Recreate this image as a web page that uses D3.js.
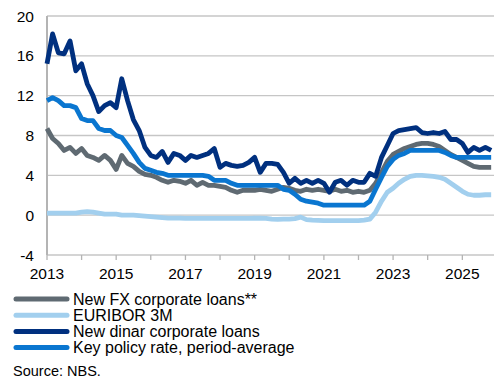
<!DOCTYPE html>
<html>
<head>
<meta charset="utf-8">
<script src="https://cdn.jsdelivr.net/npm/d3@7"></script>
<style>
  body { margin: 0; background: #fff; }
  svg { display: block; font-family: "Liberation Sans", Arial, sans-serif; }
</style>
</head>
<body>
<div id="chart"></div>
<script>
// bi-monthly observations, Jan 2013 .. Nov 2025 (6 per year)
const startYear = 2013;
const perYear = 6;

const fxLoans = [
  8.7, 7.7, 7.2, 6.5, 6.8, 6.2,
  6.7, 6.0, 5.8, 5.5, 6.0, 5.5,
  4.6, 6.0, 5.2, 4.9, 4.4, 4.1,
  4.0, 3.8, 3.5, 3.3, 3.5, 3.4,
  3.2, 3.5, 3.0, 3.3, 3.0, 3.0,
  2.9, 2.8, 2.5, 2.3, 2.5, 2.5,
  2.5, 2.6, 2.5, 2.4, 2.6, 2.8,
  2.7, 2.5, 2.4, 2.6, 2.5, 2.6,
  2.5, 2.4, 2.6, 2.4, 2.5, 2.3,
  2.4, 2.3, 2.5, 3.2, 4.3, 5.4,
  6.1, 6.4, 6.7, 6.9, 7.1, 7.2,
  7.2, 7.1, 6.9, 6.5, 6.1, 5.8,
  5.5, 5.2, 4.9, 4.8, 4.8, 4.8
];

const euribor = [
  0.2, 0.2, 0.2, 0.2, 0.2, 0.2,
  0.3, 0.35, 0.3, 0.2, 0.1, 0.1,
  0.1, 0.0, 0.0, 0.0, -0.05, -0.1,
  -0.15, -0.2, -0.25, -0.3, -0.3, -0.3,
  -0.33, -0.33, -0.33, -0.33, -0.33, -0.33,
  -0.32, -0.32, -0.32, -0.32, -0.32, -0.32,
  -0.31, -0.31, -0.32, -0.4, -0.42, -0.4,
  -0.39, -0.35, -0.2, -0.45, -0.5, -0.52,
  -0.55, -0.55, -0.55, -0.55, -0.55, -0.55,
  -0.55, -0.5, -0.4, 0.3, 1.4, 2.3,
  2.7, 3.2, 3.6, 3.9, 4.0, 4.0,
  3.95, 3.9, 3.8, 3.6, 3.2, 2.8,
  2.4, 2.1, 2.0, 2.0, 2.05, 2.05
];

const dinarLoans = [
  15.2, 18.2, 16.3, 16.2, 17.5, 14.5,
  15.2, 13.2, 12.0, 10.4, 11.0, 11.3,
  10.8, 13.7, 11.5, 9.6, 8.5, 6.8,
  6.0, 5.8, 6.4, 5.3, 6.2, 6.0,
  5.5, 6.0, 5.8, 6.0, 6.2, 6.7,
  4.8, 5.2, 5.0, 4.9, 5.0, 5.3,
  5.8, 4.3, 5.2, 5.2, 5.1, 4.3,
  3.2, 3.7, 3.2, 3.5, 3.2, 3.5,
  3.2, 2.3, 3.3, 3.5, 3.0, 3.5,
  3.3, 3.3, 4.2, 3.9, 5.8, 7.0,
  8.2, 8.5, 8.6, 8.7, 8.8, 8.3,
  8.2, 8.3, 8.2, 8.4, 7.6, 7.6,
  7.2, 6.3, 6.8, 6.5, 6.8, 6.5
];

const policyRate = [
  11.5, 11.8, 11.5, 11.0, 11.0, 10.8,
  9.7, 9.5, 9.5, 8.7, 8.5, 8.5,
  8.0, 7.8, 7.0, 6.2, 5.3, 4.7,
  4.5, 4.3, 4.2, 4.0, 4.0, 4.0,
  4.0, 4.0, 4.0, 4.0, 3.9, 3.5,
  3.5, 3.5, 3.2, 3.0, 3.0, 3.0,
  3.0, 3.0, 3.0, 3.0, 3.0, 2.6,
  2.5, 2.1, 1.6, 1.4, 1.3, 1.2,
  1.0, 1.0, 1.0, 1.0, 1.0, 1.0,
  1.0, 1.0, 1.4, 2.6, 3.8, 4.9,
  5.6, 6.0, 6.2, 6.5, 6.5, 6.5,
  6.5, 6.5, 6.5, 6.3, 6.0, 5.8,
  5.8, 5.8, 5.8, 5.8, 5.8, 5.8
];

const seriesNames = ["New FX corporate loans**", "EURIBOR 3M", "New dinar corporate loans", "Key policy rate, period-average"];
const seriesColors = ["#5f6a72", "#a2cfee", "#00307f", "#0a76d0"];
const yTicks = [-4, 0, 4, 8, 12, 16, 20];
const xLabelYears = [2013, 2015, 2017, 2019, 2021, 2023, 2025];

const width = 495, height = 380;
const margin = { top: 16, right: 1, bottom: 125, left: 47 };

const svg = d3.select("#chart").append("svg")
  .attr("width", width)
  .attr("height", height);

const x = d3.scaleTime()
  .domain([new Date(2013, 0, 1), new Date(2025, 11, 1)])
  .range([margin.left, width - margin.right]);

const y = d3.scaleLinear()
  .domain([-4, 20])
  .range([height - margin.bottom, margin.top]);

// gridlines
svg.append("g")
  .selectAll("line")
  .data(yTicks)
  .join("line")
  .attr("x1", margin.left)
  .attr("x2", width - margin.right)
  .attr("y1", d => y(d))
  .attr("y2", d => y(d))
  .attr("stroke", "#c6c6c6")
  .attr("stroke-width", 1.3);

// left axis line
svg.append("line")
  .attr("x1", margin.left).attr("x2", margin.left)
  .attr("y1", y(20)).attr("y2", y(-4))
  .attr("stroke", "#b4b4b4")
  .attr("stroke-width", 2);

// y labels
svg.append("g")
  .selectAll("text")
  .data(yTicks)
  .join("text")
  .attr("x", 34)
  .attr("y", d => y(d))
  .attr("dy", "0.36em")
  .attr("text-anchor", "end")
  .attr("font-size", 15.5)
  .attr("fill", "#000")
  .text(d => d);

// x ticks every year
const tickYears = d3.range(2013, 2026);
svg.append("g")
  .selectAll("line")
  .data(tickYears)
  .join("line")
  .attr("x1", d => x(new Date(d, 0, 1)))
  .attr("x2", d => x(new Date(d, 0, 1)))
  .attr("y1", y(-4))
  .attr("y2", y(-4) + 5)
  .attr("stroke", "#b4b4b4")
  .attr("stroke-width", 1.3);

svg.append("g")
  .selectAll("text")
  .data(xLabelYears)
  .join("text")
  .attr("x", d => x(new Date(d, 0, 1)))
  .attr("y", 279)
  .attr("text-anchor", "middle")
  .attr("font-size", 15.5)
  .attr("fill", "#000")
  .text(d => d);

// lines
const dateAt = i => new Date(startYear, i * (12 / perYear), 1);
const line = d3.line()
  .x((d, i) => x(dateAt(i)))
  .y(d => y(d));

const allSeries = [fxLoans, euribor, dinarLoans, policyRate];
const drawOrder = [1, 0, 2, 3];
drawOrder.forEach(k => {
  svg.append("path")
    .datum(allSeries[k])
    .attr("d", line)
    .attr("fill", "none")
    .attr("stroke", seriesColors[k])
    .attr("stroke-width", 4.8)
    .attr("stroke-linejoin", "round")
    .attr("stroke-linecap", "butt");
});

// legend
const legend = svg.append("g");
const legendY0 = 299, legendStep = 16.2;
seriesNames.forEach((name, i) => {
  legend.append("line")
    .attr("x1", 16).attr("x2", 67)
    .attr("y1", legendY0 + i * legendStep)
    .attr("y2", legendY0 + i * legendStep)
    .attr("stroke", seriesColors[i])
    .attr("stroke-width", 5)
    .attr("stroke-linecap", "round");
  legend.append("text")
    .attr("x", 73)
    .attr("y", legendY0 + i * legendStep)
    .attr("dy", "0.36em")
    .attr("font-size", 16)
    .attr("fill", "#000")
    .text(name);
});

svg.append("text")
  .attr("x", 13)
  .attr("y", 376)
  .attr("font-size", 14.5)
  .attr("fill", "#000")
  .text("Source: NBS.");
</script>
</body>
</html>
